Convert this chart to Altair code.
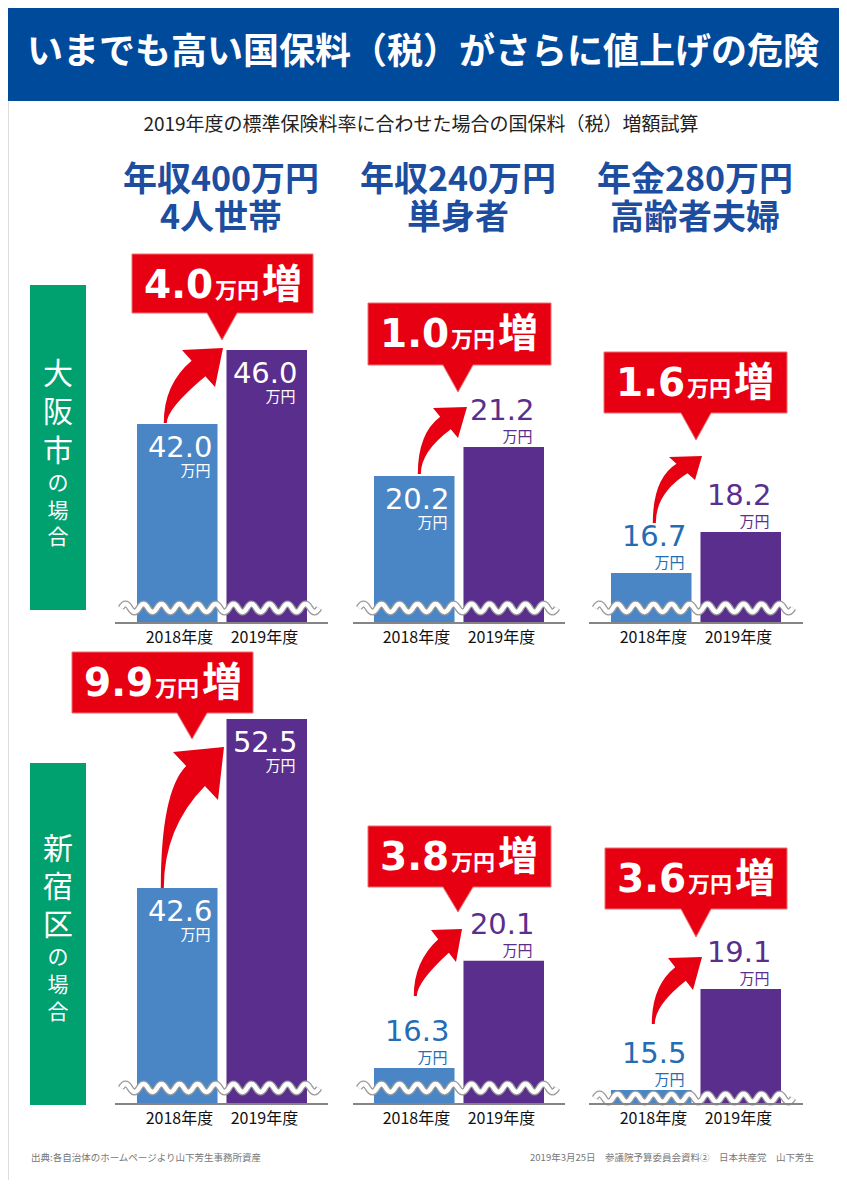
import math
import altair as alt
import pandas as pd

# ---------------- data ----------------
title_text = "いまでも高い国保料（税）がさらに値上げの危険"
subtitle_text = "2019年度の標準保険料率に合わせた場合の国保料（税）増額試算"
cities = ["大阪市", "新宿区"]
city_suffix = "の場合"
household_line1 = ["年収400万円", "年収240万円", "年金280万円"]
household_line2 = ["4人世帯", "単身者", "高齢者夫婦"]
years = ["2018年度", "2019年度"]
fee_2018 = [[42.0, 20.2, 16.7], [42.6, 16.3, 15.5]]
fee_2019 = [[46.0, 21.2, 18.2], [52.5, 20.1, 19.1]]
increase = [[4.0, 1.0, 1.6], [9.9, 3.8, 3.6]]
unit_text = "万円"
increase_text = "増"
source_text = "出典:各自治体のホームページより山下芳生事務所資産"
credit_text = "2019年3月25日　参議院予算委員会資料②　日本共産党　山下芳生"

# ---------------- layout (page pixel coordinates) ----------------
OFF = 8
W, H = 831, 1172


def P(v):
    return v - OFF


BAR_SPAN = [(137, 307), (374, 544), (611, 781)]
AXIS_SPAN = [(115, 328), (353, 565), (589, 803)]
ROW_BASE = [623, 1104]
# (value at the broken baseline, pixels per 1万円)
SCALE_PARAMS = [[(31.24, 18.5), (15.13, 29.0), (14.87, 27.3)],
                [(29.95, 17.07), (15.02, 28.2), (15.0, 28.06)]]
LABEL_INSIDE = [[(True, True), (True, False), (False, False)],
                [(True, True), (False, False), (False, False)]]
WAVE_Y = [[608, 608, 608], [1088, 1088, 1098]]
# callout box: x0, x1, y0, y1, tip_x, tip_y
CALLOUTS = [[(132, 313, 254, 313, 222, 340), (368, 551, 303, 365, 458, 392), (604, 787, 352, 413, 696, 440)],
            [(72, 253, 652, 713, 192, 739), (368, 551, 826, 887, 458, 912), (605, 787, 848, 909, 696, 937)]]
# arrow: tail, tip, head corner 1, head corner 2
ARROWS = [[((165, 423), (223, 348), (182, 350), (215, 387)),
           ((419, 474), (467, 407), (433, 408), (458, 438)),
           ((654, 523), (702, 456), (669, 457), (695, 480))],
          [((162, 888), (224, 747), (173, 752), (218, 800)),
           ((415, 996), (462, 929), (431, 930), (456, 962)),
           ((653, 1024), (702, 957), (668, 958), (693, 990))]]
HEADER_X = [221, 458, 695]
ROW_CHAR_Y = [[375, 413, 452, 484, 512, 538], [850, 888, 926, 958, 986, 1013]]
BAND_HALF = 40  # half of a bar's width: right-aligned labels sit inside the bar edge

NAVY = "#004a9c"
HEAD = "#1d4d9f"
GREEN = "#00a06f"
RED = "#e60012"
BLUE_BAR = "#4a86c6"
PURPLE_BAR = "#5a2e8d"
BLUE_TXT = "#236db5"
JP = "Noto Sans CJK JP"
NUM = "DejaVu Sans"

layers = []


def tl(rows, **kw):
    df = pd.DataFrame(rows, columns=["x", "y", "t"])
    return alt.Chart(df).mark_text(**kw).encode(
        x=alt.X("x:Q", scale=None), y=alt.Y("y:Q", scale=None), text="t:N")


# backgrounds
rect_df = pd.DataFrame([
    dict(x=P(5), x2=P(842), y=P(5), y2=P(101), c=NAVY),
    dict(x=P(30), x2=P(86), y=P(285), y2=P(610), c=GREEN),
    dict(x=P(30), x2=P(86), y=P(763), y2=P(1105), c=GREEN),
])
layers.append(alt.Chart(rect_df).mark_rect().encode(
    x=alt.X("x:Q", scale=None), x2="x2:Q",
    y=alt.Y("y:Q", scale=None), y2="y2:Q",
    color=alt.Color("c:N", scale=None)))

layers.append(tl([(P(423), P(53), title_text)], font=JP, fontSize=36, fontWeight="bold",
                 color="white", align="center", baseline="middle"))
layers.append(tl([(P(421), P(125), subtitle_text)], font=JP, fontSize=19,
                 color="#222222", align="center", baseline="middle"))
head_rows = [(P(HEADER_X[i]), P(181), household_line1[i]) for i in range(3)] + \
            [(P(HEADER_X[i]), P(219), household_line2[i]) for i in range(3)]
layers.append(tl(head_rows, font=JP, fontSize=34, fontWeight="bold", color=HEAD,
                 align="center", baseline="middle"))

big_rows, small_rows = [], []
for r, city in enumerate(cities):
    chars = list(city) + list(city_suffix)
    for i, ch in enumerate(chars):
        (big_rows if i < len(city) else small_rows).append((P(58), P(ROW_CHAR_Y[r][i]), ch))
layers.append(tl(big_rows, font=JP, fontSize=30, color="white", align="center", baseline="middle"))
layers.append(tl(small_rows, font=JP, fontSize=21, color="white", align="center", baseline="middle"))

# panels
bar_layers, year_layers, label_layers = [], [], []
for r in range(2):
    for c in range(3):
        lo, k = SCALE_PARAMS[r][c]
        yb = ROW_BASE[r]
        ys = alt.Scale(domain=[lo, lo + 10], range=[P(yb), P(yb - 10 * k)], nice=False, zero=False)
        xs = alt.Scale(domain=years, range=[P(BAR_SPAN[c][0]), P(BAR_SPAN[c][1])],
                       paddingInner=0.1, paddingOuter=0)
        vals = [fee_2018[r][c], fee_2019[r][c]]
        df = pd.DataFrame({
            "year": years,
            "value": vals,
            "label": [f"{v:.1f}" for v in vals],
            "unit": [unit_text, unit_text],
            "bar": [BLUE_BAR, PURPLE_BAR],
            "txt": [BLUE_TXT, PURPLE_BAR],
            "inside": list(LABEL_INSIDE[r][c]),
        })
        bar_layers.append(alt.Chart(df).mark_bar().encode(
            x=alt.X("year:N", scale=xs, axis=None),
            y=alt.Y("value:Q", scale=ys, axis=None),
            y2=alt.datum(lo),
            color=alt.Color("bar:N", scale=None)))
        year_layers.append(alt.Chart(df).mark_text(font=JP, fontSize=16, color="#111111",
                                                   baseline="middle").encode(
            x=alt.X("year:N", scale=xs, axis=None),
            y=alt.value(P(yb + 15)),
            text="year:N"))
        din = df[df["inside"]]
        dout = df[~df["inside"]]
        xe = alt.X("year:N", scale=xs, axis=None)
        ye = alt.Y("value:Q", scale=ys, axis=None)
        if len(din):
            label_layers.append(alt.Chart(din).mark_text(
                font=NUM, fontSize=29, color="white", align="right", baseline="alphabetic",
                dx=BAND_HALF - 7, dy=33).encode(x=xe, y=ye, text="label:N"))
            label_layers.append(alt.Chart(din).mark_text(
                font=JP, fontSize=15, color="white", align="right", baseline="alphabetic",
                dx=BAND_HALF - 9, dy=52).encode(x=xe, y=ye, text="unit:N"))
        if len(dout):
            label_layers.append(alt.Chart(dout).mark_text(
                font=NUM, fontSize=29, align="right", baseline="alphabetic",
                dx=BAND_HALF - 7, dy=-27).encode(x=xe, y=ye, text="label:N",
                                                 color=alt.Color("txt:N", scale=None)))
            label_layers.append(alt.Chart(dout).mark_text(
                font=JP, fontSize=15, align="right", baseline="alphabetic",
                dx=BAND_HALF - 9, dy=-5).encode(x=xe, y=ye, text="unit:N",
                                                color=alt.Color("txt:N", scale=None)))

layers += bar_layers


# decorative shapes as custom symbol paths (size 4 -> 1 path unit = 1 px)
def wave_path(x0, yc, n_half=22, half=9.0, amp=4.0):
    s = f"M{P(x0):.1f},{P(yc):.1f}"
    for i in range(n_half):
        sign = -1 if i % 2 == 0 else 1
        s += f" q{half / 2:.1f},{sign * 2 * amp:.1f} {half:.1f},0"
    return s


def arrow_path(T, tip, C1, C2, frac=0.42):
    Mx, My = (C1[0] + C2[0]) / 2, (C1[1] + C2[1]) / 2
    bl = math.hypot(C2[0] - C1[0], C2[1] - C1[1])
    ux, uy = (C2[0] - C1[0]) / bl, (C2[1] - C1[1]) / bl
    w = bl * frac
    A = (Mx - ux * w / 2, My - uy * w / 2)
    B = (Mx + ux * w / 2, My + uy * w / 2)
    dx, dy = tip[0] - Mx, tip[1] - My
    T1 = (T[0] - 1.2, T[1])
    T2 = (T[0] + 1.8, T[1])

    def ctrl(pt, tx):
        t = (tx - pt[0]) / dx
        return (tx, pt[1] + t * dy)

    c1 = ctrl(A, T1[0])
    c2 = ctrl(B, T2[0])
    pts = lambda p: f"{P(p[0]):.1f},{P(p[1]):.1f}"
    return (f"M{pts(T1)} Q{pts(c1)} {pts(A)} L{pts(C1)} L{pts(tip)} L{pts(C2)} "
            f"L{pts(B)} Q{pts(c2)} {pts(T2)} Z")


def callout_path(x0, x1, y0, y1, tx, ty, half=15):
    pts = lambda a, b: f"{P(a):.1f},{P(b):.1f}"
    return (f"M{pts(x0, y0)} L{pts(x1, y0)} L{pts(x1, y1)} L{pts(tx + half, y1)} "
            f"L{pts(tx, ty)} L{pts(tx - half, y1)} L{pts(x0, y1)} Z")


wave_df = pd.DataFrame({"path": [wave_path(AXIS_SPAN[c][0] + 6, WAVE_Y[r][c])
                                 for r in range(2) for c in range(3)]})
arrow_df = pd.DataFrame({"path": [arrow_path(*ARROWS[r][c]) for r in range(2) for c in range(3)]})
callout_df = pd.DataFrame({"path": [callout_path(*CALLOUTS[r][c]) for r in range(2) for c in range(3)]})


def shape_layer(df, **kw):
    return alt.Chart(df).mark_point(size=4, opacity=1, **kw).encode(
        x=alt.value(0), y=alt.value(0), shape=alt.Shape("path:N", scale=None))


layers.append(shape_layer(wave_df, filled=False, stroke="#9a9a9a", strokeWidth=7))
layers.append(shape_layer(wave_df, filled=False, stroke="white", strokeWidth=4.5))

rule_df = pd.DataFrame([dict(x=P(AXIS_SPAN[c][0]), x2=P(AXIS_SPAN[c][1]), y=P(ROW_BASE[r]))
                        for r in range(2) for c in range(3)])
layers.append(alt.Chart(rule_df).mark_rule(color="#858585", strokeWidth=2).encode(
    x=alt.X("x:Q", scale=None), x2="x2:Q", y=alt.Y("y:Q", scale=None)))

layers += year_layers
layers += label_layers

layers.append(shape_layer(arrow_df, filled=True, fill=RED, strokeWidth=0))
layers.append(shape_layer(callout_df, filled=True, fill=RED, stroke="#ef6f6f", strokeWidth=1))

num_rows, unit_rows, inc_rows = [], [], []
for r in range(2):
    for c in range(3):
        x0, x1, y0, y1, tx, ty = CALLOUTS[r][c]
        base = P(y0 + 44)
        num_rows.append((P(x0 + 12), base, f"{increase[r][c]:.1f}"))
        unit_rows.append((P(x0 + 83), base, unit_text))
        inc_rows.append((P(x0 + 130), base, increase_text))
layers.append(tl(num_rows, font=NUM, fontSize=39, fontWeight="bold", color="white",
                 align="left", baseline="alphabetic"))
layers.append(tl(unit_rows, font=JP, fontSize=22, fontWeight="bold", color="white",
                 align="left", baseline="alphabetic"))
layers.append(tl(inc_rows, font=JP, fontSize=40, fontWeight="bold", color="white",
                 align="left", baseline="alphabetic"))

layers.append(tl([(P(31), P(1158), source_text)], font=JP, fontSize=9.5, color="#777777",
                 align="left", baseline="middle"))
layers.append(tl([(P(814), P(1158), credit_text)], font=JP, fontSize=9.5, color="#777777",
                 align="right", baseline="middle"))

chart = alt.layer(*layers).resolve_scale(
    x="independent", y="independent"
).properties(
    width=W, height=H, padding=0, autosize=alt.AutoSizeParams(type="none")
).configure_view(stroke=None).configure(background="white")

chart.save("out.html", embed_options={"renderer": "svg", "actions": False})
